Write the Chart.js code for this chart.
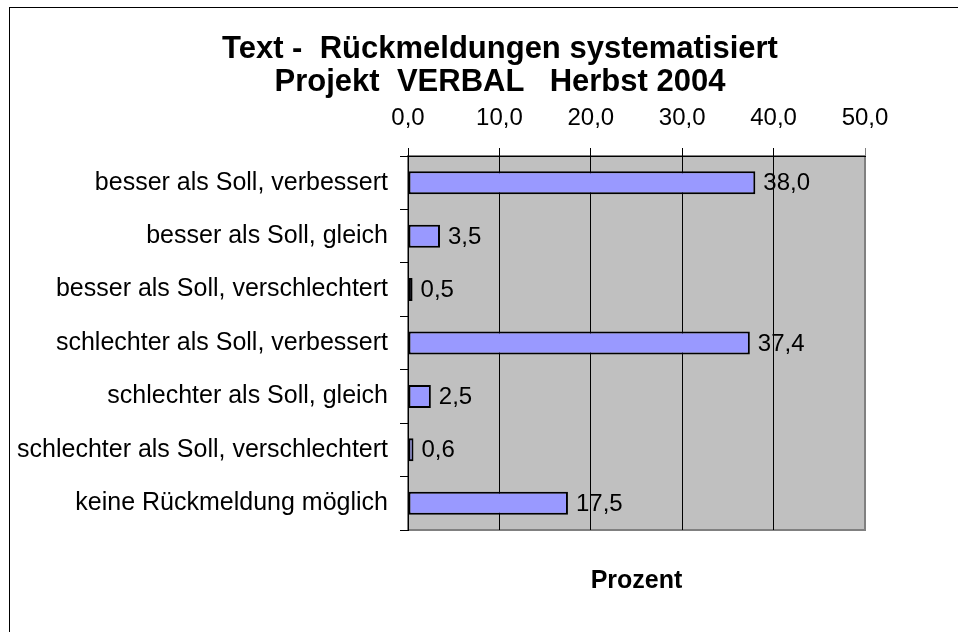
<!DOCTYPE html>
<html lang="de">
<head>
  <meta charset="UTF-8" />
  <title>Text - Rückmeldungen systematisiert</title>
  <script src="https://cdn.jsdelivr.net/npm/chart.js"></script>
  <style>
    html, body { margin: 0; padding: 0; background: #fff; }
    #wrap { position: relative; width: 958px; height: 632px; overflow: hidden; }
    #chart { position: absolute; left: 0; top: 0; }
    .title {
      position: absolute; left: 0; top: 31px; width: 1000px;
      text-align: center; white-space: pre;
      font: bold 31px 'Liberation Sans', Arial, sans-serif; line-height: 33px; color: #000;
    }
  </style>
</head>
<body>
  <div id="wrap">
    <canvas id="chart" width="958" height="632"></canvas>
    <div class="title" id="title"></div>
  </div>

  <script>
    const categories = [
      'besser als Soll, verbessert',
      'besser als Soll, gleich',
      'besser als Soll, verschlechtert',
      'schlechter als Soll, verbessert',
      'schlechter als Soll, gleich',
      'schlechter als Soll, verschlechtert',
      'keine Rückmeldung möglich'
    ];
    const percentValues = [38.0, 3.5, 0.5, 37.4, 2.5, 0.6, 17.5];
    const xTicks = [0, 10, 20, 30, 40, 50];
    const titleLines = ['Text -  Rückmeldungen systematisiert', 'Projekt  VERBAL   Herbst 2004'];

    document.getElementById('title').textContent = titleLines.join('\n');

    const fmt = v => Number(v).toFixed(1).replace('.', ',');
    const FONT = "'Liberation Sans', Arial, sans-serif";

    // grey plot area + outer frame
    const backdrop = {
      id: 'backdrop',
      beforeDraw(chart) {
        const { ctx, chartArea: a } = chart;
        ctx.save();
        ctx.fillStyle = '#c0c0c0';
        ctx.fillRect(a.left, a.top, a.right - a.left, a.bottom - a.top);
        ctx.strokeStyle = '#808080';
        ctx.lineWidth = 2;
        ctx.strokeRect(a.left, a.top, a.right - a.left, a.bottom - a.top);
        ctx.strokeStyle = '#000';
        ctx.lineWidth = 1;
        ctx.strokeRect(9.5, 7.5, 2000, 2000);
        ctx.restore();
      }
    };

    // value labels to the right of each bar
    const valueLabels = {
      id: 'valueLabels',
      afterDatasetsDraw(chart) {
        const { ctx } = chart;
        const meta = chart.getDatasetMeta(0);
        ctx.save();
        ctx.font = '24px ' + FONT;
        ctx.fillStyle = '#000';
        ctx.textAlign = 'left';
        ctx.textBaseline = 'middle';
        meta.data.forEach((bar, i) => {
          ctx.fillText(fmt(percentValues[i]), bar.x + 8, bar.y + 1);
        });
        ctx.restore();
      }
    };

    new Chart(document.getElementById('chart'), {
      type: 'bar',
      data: {
        labels: categories,
        datasets: [{
          data: percentValues,
          backgroundColor: '#9999ff',
          borderColor: '#000',
          borderWidth: 2,
          borderSkipped: false,
          categoryPercentage: 1.0,
          barPercentage: 0.43
        }]
      },
      options: {
        indexAxis: 'y',
        responsive: false,
        animation: false,
        layout: { padding: { left: 9, right: 93, top: 97, bottom: 0 } },
        plugins: {
          legend: { display: false },
          tooltip: { enabled: false },
          title: { display: false }
        },
        scales: {
          x: {
            position: 'top',
            min: 0,
            max: 50,
            afterBuildTicks: s => { s.ticks = xTicks.map(v => ({ value: v })); },
            afterFit: s => { s.height = 59; },
            ticks: {
              color: '#000',
              padding: 15,
              maxRotation: 0,
              font: { family: FONT, size: 24 },
              callback: v => fmt(v)
            },
            grid: {
              color: ctx => (ctx.tick && ctx.tick.value === 50 ? '#808080' : '#000'),
              lineWidth: 1,
              tickLength: 8,
              drawTicks: true
            },
            border: { display: true, color: '#000', width: 1 }
          },
          x2: {
            type: 'linear',
            position: 'bottom',
            min: 0,
            max: 50,
            afterFit: s => { s.height = 102; },
            ticks: { display: false },
            grid: { display: false },
            border: { display: false },
            title: {
              display: true,
              text: 'Prozent',
              color: '#000',
              font: { family: FONT, size: 25, weight: 'bold' },
              padding: { top: 36, bottom: 36 }
            }
          },
          y: {
            afterFit: s => { s.width = 399; },
            ticks: {
              color: '#000',
              padding: 12,
              font: { family: FONT, size: 25 }
            },
            grid: {
              offset: true,
              drawOnChartArea: false,
              drawTicks: true,
              tickLength: 8,
              color: '#000'
            },
            border: { display: true, color: '#000', width: 1 }
          }
        }
      },
      plugins: [backdrop, valueLabels]
    });
  </script>
</body>
</html>
